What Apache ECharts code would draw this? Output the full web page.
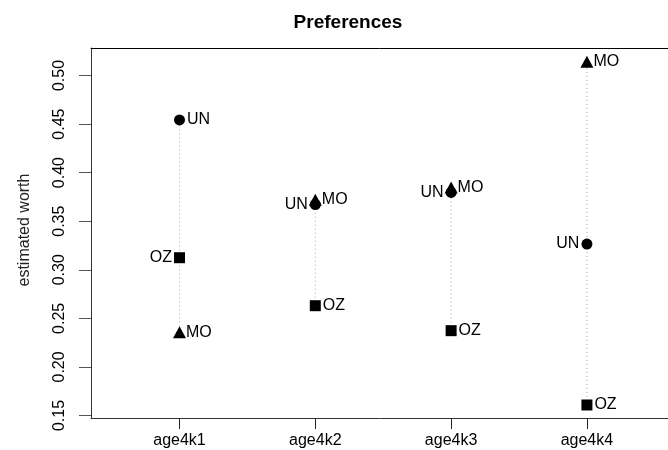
<!DOCTYPE html>
<html>
<head>
<meta charset="utf-8">
<script src="https://cdn.jsdelivr.net/npm/echarts@6/dist/echarts.min.js"></script>
<style>
html,body{margin:0;padding:0;background:#fff;}
#chart{width:668px;height:450px;}
</style>
</head>
<body>
<div id="chart"></div>
<script>
const categories = ['age4k1', 'age4k2', 'age4k3', 'age4k4'];
const UN = [0.4542, 0.3672, 0.3796, 0.3265];
const OZ = [0.3124, 0.2630, 0.2373, 0.1608];
const MO = [0.2335, 0.3701, 0.3827, 0.5120];
const yTicks = [0.15, 0.20, 0.25, 0.30, 0.35, 0.40, 0.45, 0.50];
const xTicks = [1, 2, 3, 4];

// label sides (layout only)
const unSide = ['right', 'left', 'left', 'left'];
const ozSide = ['left', 'right', 'right', 'right'];
const moSide = ['right', 'right', 'right', 'right'];

const FONT = 'Liberation Sans, Arial, Helvetica, sans-serif';
const X_MIN = 0.3483, X_MAX = 4.597;

function pts(vals, name, sides) {
  return vals.map((v, i) => ({
    value: [i + 1, v],
    label: { show: true, position: sides[i], formatter: name }
  }));
}

const rangeData = [];
categories.forEach((c, i) => {
  const vs = [UN[i], OZ[i], MO[i]];
  rangeData.push([i + 1, Math.min(...vs)]);
  rangeData.push([i + 1, Math.max(...vs)]);
  rangeData.push([i + 1, null]);
});

const labelStyle = { fontFamily: FONT, fontSize: 16, color: '#000', distance: 2 };
const moLabelStyle = { fontFamily: FONT, fontSize: 16, color: '#000', distance: 0 };

const chart = echarts.init(document.getElementById('chart'), null, { renderer: 'canvas' });
chart.setOption({
  animation: false,
  backgroundColor: '#fff',
  title: {
    text: 'Preferences',
    left: 343, top: 8, textAlign: 'center',
    textStyle: { fontFamily: FONT, fontSize: 19, fontWeight: 'bold', color: '#000' }
  },
  graphic: [{
    type: 'text',
    x: 25, y: 230, rotation: Math.PI / 2,
    style: { text: 'estimated worth', fontFamily: FONT, fontSize: 16, fill: '#222', align: 'center', verticalAlign: 'middle' }
  }],
  grid: {
    left: 91, right: 0, top: 48, bottom: 32, show: false
  },
  xAxis: [{
    type: 'value', min: X_MIN, max: X_MAX, position: 'bottom',
    splitLine: { show: false },
    axisLine: { show: true, lineStyle: { color: '#333', width: 1 } },
    axisTick: { show: true, length: 11, customValues: xTicks, lineStyle: { color: '#222' } },
    axisLabel: {
      customValues: xTicks, margin: 15,
      formatter: v => categories[Math.round(v) - 1],
      fontFamily: FONT, fontSize: 16, color: '#000'
    }
  }, {
    type: 'value', min: X_MIN, max: X_MAX, position: 'top',
    splitLine: { show: false },
    axisLine: { show: true, lineStyle: { color: '#000', width: 1 } },
    axisTick: { show: false }, axisLabel: { show: false }
  }],
  yAxis: {
    type: 'value', min: 0.1474, max: 0.5283,
    splitLine: { show: false },
    axisLine: { show: true, lineStyle: { color: '#333', width: 1 } },
    axisTick: { show: true, length: 12, customValues: yTicks, lineStyle: { color: '#555' } },
    axisLabel: {
      customValues: yTicks, rotate: 90, margin: 23,
      formatter: v => v.toFixed(2),
      fontFamily: FONT, fontSize: 16, color: '#000'
    }
  },
  series: [
    {
      type: 'line', data: rangeData, connectNulls: false, showSymbol: false, symbol: 'none',
      lineStyle: { type: [1, 3], color: '#aaa', width: 1 }, silent: true, z: 1
    },
    {
      type: 'scatter', name: 'OZ', data: pts(OZ, 'OZ', ozSide),
      symbol: 'rect', symbolSize: 11, itemStyle: { color: '#000', opacity: 1 }, label: labelStyle, z: 3
    },
    {
      type: 'scatter', name: 'UN', data: pts(UN, 'UN', unSide),
      symbol: 'circle', symbolSize: 11, itemStyle: { color: '#000', opacity: 1 }, label: labelStyle, z: 3
    },
    {
      type: 'scatter', name: 'MO', data: pts(MO, 'MO', moSide),
      symbol: 'triangle', symbolSize: [13, 12], symbolOffset: [0, -2],
      itemStyle: { color: '#000', opacity: 1 }, label: moLabelStyle, z: 3
    }
  ]
});
</script>
</body>
</html>
